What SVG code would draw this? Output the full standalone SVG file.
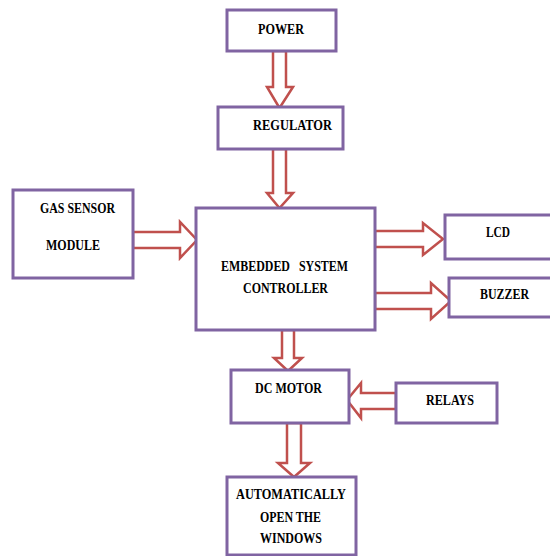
<svg xmlns="http://www.w3.org/2000/svg" width="550" height="556" viewBox="0 0 550 556">
<style>
.box{fill:#fff;stroke:#8064A2;stroke-width:3}
.arr{fill:#fff;stroke:#C0504D;stroke-width:2.5;stroke-linejoin:miter}
text{font-family:"Liberation Serif","Times New Roman",serif;font-weight:bold;font-size:15.5px;fill:#000}
</style>
<rect width="550" height="556" fill="#fff"/>
<g id="connectors">
<path class="arr" d="M273,51 H286 V87 H293 L279.5,108 L267,87 H273 Z"/>
<path class="arr" d="M273,149 H286 V193 H293 L279.5,208 L267,193 H273 Z"/>
<path class="arr" d="M133,232 H180 V222 L197,240 L180,258 V248 H133 Z"/>
<path class="arr" d="M375,231 H423 V223 L443,239 L423,255 V247 H375 Z"/>
<path class="arr" d="M375,293 H431 V283 L451,301 L431,319 V309 H375 Z"/>
<path class="arr" d="M282,330 H294 V358 H302 L288,371 L274,358 H282 Z"/>
<path class="arr" d="M396,393 H361 V383 L347,400 L361,418 V409 H396 Z"/>
<path class="arr" d="M287,423 H301 V463 H310 L294,477 L278,463 H287 Z"/>
</g>
<g id="power"><rect class="box" x="227" y="10" width="109" height="41"/><text x="258" y="34" textLength="46" lengthAdjust="spacingAndGlyphs">POWER</text></g>
<g id="regulator"><rect class="box" x="218" y="107" width="125" height="42"/><text x="253" y="130" textLength="79" lengthAdjust="spacingAndGlyphs">REGULATOR</text></g>
<g id="gas-sensor"><rect class="box" x="13" y="190" width="120" height="88"/><text x="40" y="213" textLength="75" lengthAdjust="spacingAndGlyphs">GAS SENSOR</text><text x="46" y="250" textLength="54" lengthAdjust="spacingAndGlyphs">MODULE</text></g>
<g id="controller"><rect class="box" x="196" y="208" width="179" height="122"/><text x="221" y="271" xml:space="preserve" textLength="127" lengthAdjust="spacingAndGlyphs">EMBEDDED   SYSTEM</text><text x="243" y="293" textLength="85" lengthAdjust="spacingAndGlyphs">CONTROLLER</text></g>
<g id="lcd"><rect class="box" x="445" y="215" width="115" height="44"/><text x="486" y="237" textLength="24" lengthAdjust="spacingAndGlyphs">LCD</text></g>
<g id="buzzer"><rect class="box" x="449" y="278" width="111" height="39"/><text x="480" y="299" textLength="49" lengthAdjust="spacingAndGlyphs">BUZZER</text></g>
<g id="dc-motor"><rect class="box" x="231" y="370" width="118" height="53"/><text x="255" y="393" textLength="67" lengthAdjust="spacingAndGlyphs">DC MOTOR</text></g>
<g id="relays"><rect class="box" x="396" y="383" width="101" height="40"/><text x="426" y="405" textLength="48" lengthAdjust="spacingAndGlyphs">RELAYS</text></g>
<g id="windows"><rect class="box" x="227" y="477" width="129" height="78"/><text x="236" y="499" textLength="110" lengthAdjust="spacingAndGlyphs">AUTOMATICALLY</text><text x="260" y="522" textLength="61" lengthAdjust="spacingAndGlyphs">OPEN THE</text><text x="260" y="543" textLength="62" lengthAdjust="spacingAndGlyphs">WINDOWS</text></g>
</svg>
